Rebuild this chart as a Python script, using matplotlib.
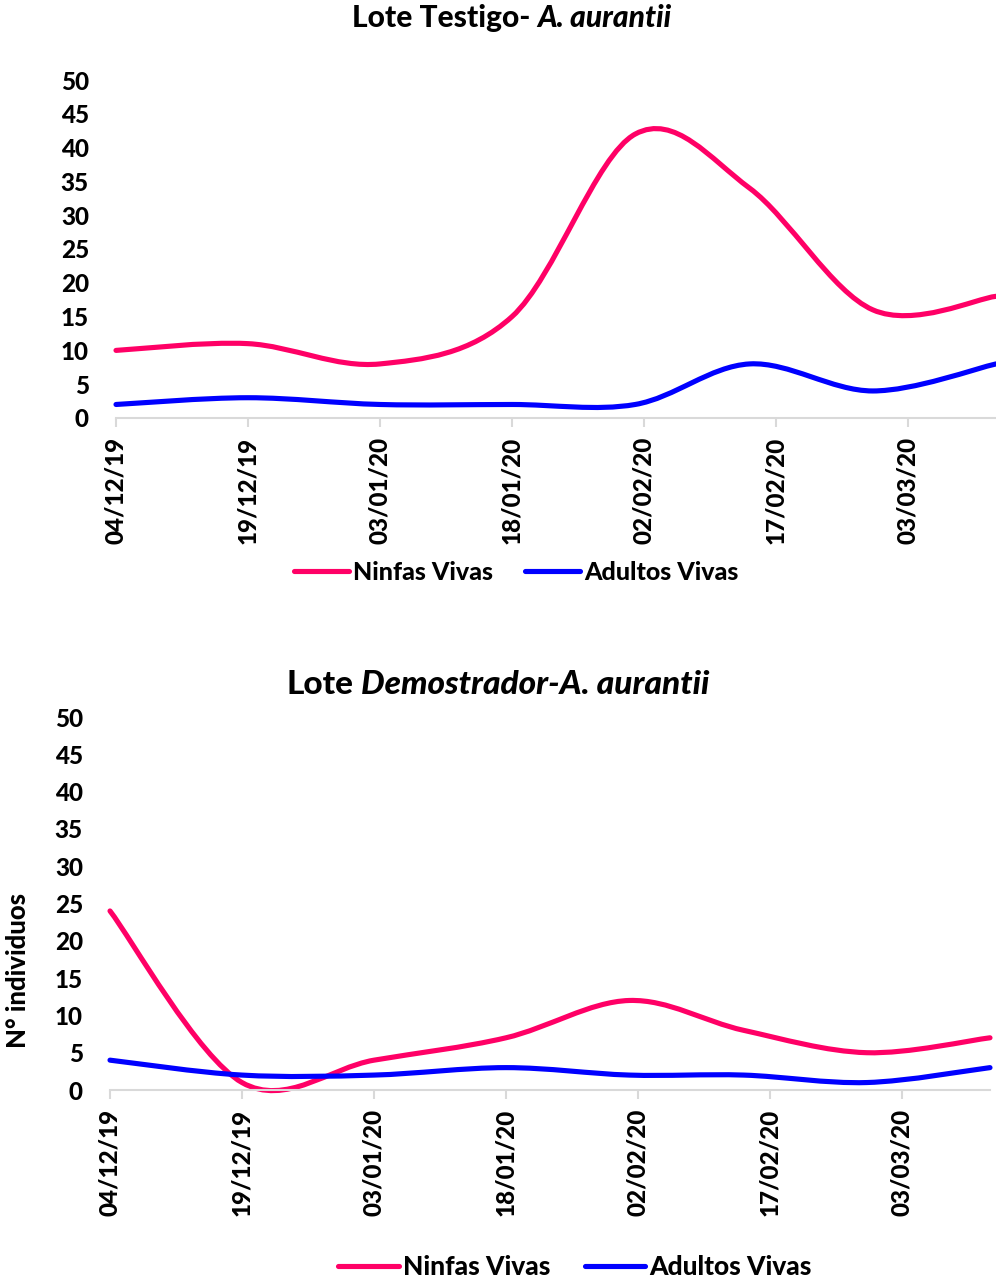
import numpy as np
import pandas as pd
import matplotlib
matplotlib.use('Agg')
import matplotlib.pyplot as plt
import matplotlib.dates as mdates
from matplotlib.path import Path
from matplotlib.patches import PathPatch
from matplotlib.lines import Line2D
from matplotlib.offsetbox import TextArea, HPacker, AnchoredOffsetbox

# datos
fechas = ['2019-12-04', '2019-12-19', '2020-01-03', '2020-01-18',
          '2020-02-01', '2020-02-14', '2020-02-28', '2020-03-13']
ninfas_testigo = [10, 11, 8, 15, 42, 34, 16, 18]
adultos_testigo = [2, 3, 2, 2, 2, 8, 4, 8]
ninfas_demo = [24, 1, 4, 7, 12, 8, 5, 7]
adultos_demo = [4, 2, 2, 3, 2, 2, 1, 3]
etiquetas = ['Ninfas Vivas', 'Adultos Vivas']

rosa = '#FF0066'
azul = '#0000FF'
gris = '#D9D9D9'

plt.rcParams['font.family'] = ['Lato', 'DejaVu Sans']
plt.rcParams['font.weight'] = 900

x = mdates.date2num(pd.to_datetime(fechas))
x0 = x[0]
ticks = mdates.date2num(pd.date_range(fechas[0], periods=7, freq='15D'))


def curva_suave(xs, ys):
    # linea suavizada tipo Excel (Catmull-Rom -> Bezier)
    xs = np.asarray(xs, float)
    ys = np.asarray(ys, float)
    n = len(xs)
    verts = [(xs[0], ys[0])]
    codes = [Path.MOVETO]
    for i in range(n - 1):
        a = max(i - 1, 0)
        b = min(i + 2, n - 1)
        c1 = (xs[i] + (xs[i + 1] - xs[a]) / 6, ys[i] + (ys[i + 1] - ys[a]) / 6)
        c2 = (xs[i + 1] - (xs[b] - xs[i]) / 6, ys[i + 1] - (ys[b] - ys[i]) / 6)
        verts += [c1, c2, (xs[i + 1], ys[i + 1])]
        codes += [Path.CURVE4] * 3
    return Path(verts, codes)


def estilo(ax, fs):
    ax.set_ylim(0, 50)
    ax.set_yticks(range(0, 51, 5))
    ax.set_xlim(x0, x0 + 100)
    ax.set_xticks(ticks)
    ax.xaxis.set_major_formatter(mdates.DateFormatter('%d/%m/%y'))
    for s in ['top', 'right', 'left']:
        ax.spines[s].set_visible(False)
    ax.spines['bottom'].set_color(gris)
    ax.spines['bottom'].set_linewidth(1.5)
    ax.tick_params(axis='x', length=6.5, width=1.5, color=gris, pad=7,
                   labelsize=fs, labelrotation=90)
    ax.tick_params(axis='y', length=0, pad=19.5, labelsize=fs)
    ax.patch.set_visible(False)


def serie(ax, ys, color):
    p = PathPatch(curva_suave(x, ys), facecolor='none', edgecolor=color,
                  lw=3.7, capstyle='round', joinstyle='round', clip_on=False)
    ax.add_patch(p)


def titulo(partes, cx, cy, fs, sep):
    hijos = [TextArea(t, textprops=dict(fontsize=fs, fontweight=900,
                                        style='italic' if it else 'normal'))
             for t, it in partes]
    caja = HPacker(children=hijos, align='baseline', pad=0, sep=sep)
    anc = AnchoredOffsetbox(loc='center', child=caja, pad=0, borderpad=0,
                            frameon=False, bbox_to_anchor=(cx, cy),
                            bbox_transform=fig.transFigure)
    fig.add_artist(anc)


fig = plt.figure(figsize=(9.96, 12.83), dpi=100)

ax1 = fig.add_axes([116 / 996, 1 - 418 / 1283, 880 / 996, 338 / 1283])
estilo(ax1, 17.5)
serie(ax1, ninfas_testigo, rosa)
serie(ax1, adultos_testigo, azul)

ax2 = fig.add_axes([110 / 996, 1 - 1090 / 1283, 880 / 996, 373 / 1283])
estilo(ax2, 17.5)
serie(ax2, ninfas_demo, rosa)
serie(ax2, adultos_demo, azul)

titulo([('Lote Testigo-', False), ('A. aurantii', True)], 512 / 996, 1 - 18 / 1283, 21.5, 5)
titulo([('Lote', False), ('Demostrador-A. aurantii', True)], 498 / 996, 1 - 684 / 1283, 24, 5)

fig.text(18 / 996, 1 - 970 / 1283, 'N° individuos', rotation=90,
         ha='center', va='center', fontsize=18.5)

manijas = [Line2D([], [], color=rosa, lw=3.7, solid_capstyle='round'),
           Line2D([], [], color=azul, lw=3.7, solid_capstyle='round')]
fig.legend(manijas, etiquetas, loc='center', bbox_to_anchor=(516 / 996, 1 - 572 / 1283),
           ncol=2, frameon=False, fontsize=18, handlelength=2.2,
           handletextpad=0.15, columnspacing=1.3)
fig.legend(manijas, etiquetas, loc='center', bbox_to_anchor=(575 / 996, 1 - 1267 / 1283),
           ncol=2, frameon=False, fontsize=19, handlelength=2.3,
           handletextpad=0.15, columnspacing=1.3)

fig.savefig('out.png', dpi=100, facecolor='white')
